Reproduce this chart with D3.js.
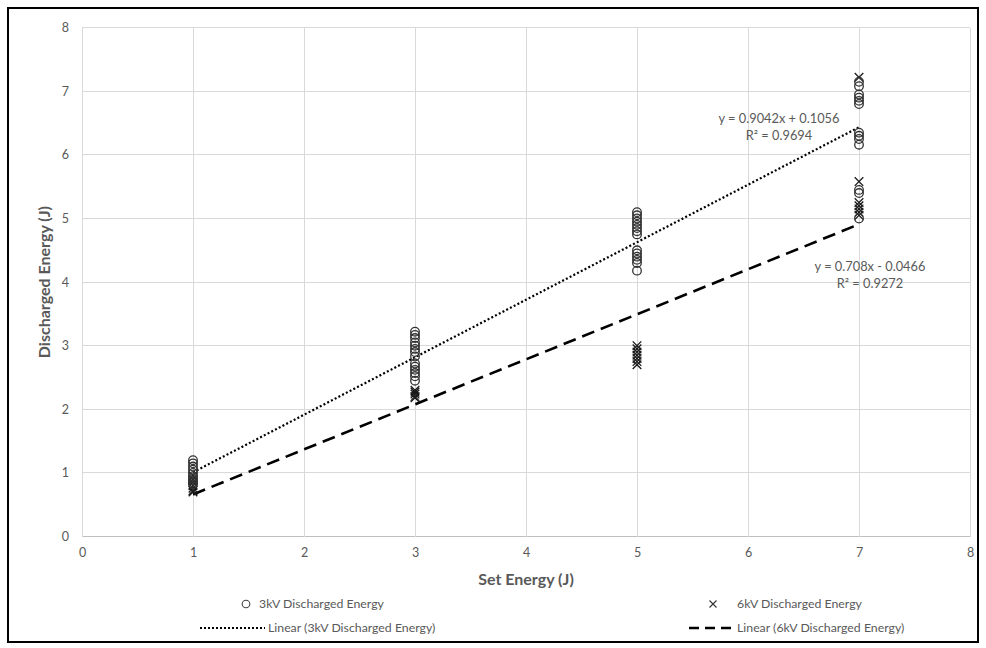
<!DOCTYPE html>
<html>
<head>
<meta charset="utf-8">
<script src="https://cdn.jsdelivr.net/npm/d3@7"></script>
<style>
  html, body { margin: 0; padding: 0; background: #fff; }
  svg { display: block; font-family: Lato, "Open Sans", sans-serif; }
</style>
</head>
<body>
<svg id="chart" width="986" height="648"></svg>
<script>
// ---------- data ----------
const setEnergy = [1, 3, 5, 7];
const xTicks = [0, 1, 2, 3, 4, 5, 6, 7, 8];
const yTicks = [0, 1, 2, 3, 4, 5, 6, 7, 8];

// 3kV discharged energy readings, one list per set energy
const kv3At1 = [1.20, 1.15, 1.10, 1.05, 1.00, 0.95, 0.91, 0.88, 0.85, 0.82];
const kv3At3 = [3.22, 3.17, 3.12, 3.05, 3.00, 2.95, 2.90, 2.83, 2.72, 2.67, 2.62, 2.57, 2.52, 2.45];
const kv3At5 = [5.10, 5.05, 5.00, 4.95, 4.90, 4.85, 4.80, 4.75, 4.50, 4.45, 4.40, 4.35, 4.30, 4.18];
const kv3At7 = [7.15, 7.08, 6.95, 6.90, 6.85, 6.80, 6.35, 6.30, 6.25, 6.16, 5.45, 5.40, 5.00];

// 6kV discharged energy readings
const kv6At1 = [0.95, 0.90, 0.85, 0.80, 0.76, 0.72, 0.70];
const kv6At3 = [2.30, 2.27, 2.24, 2.20, 2.18];
const kv6At5 = [3.00, 2.95, 2.90, 2.85, 2.80, 2.75, 2.70];
const kv6At7 = [7.22, 5.58, 5.25, 5.20, 5.15, 5.10, 5.05];

const kv3Values = [kv3At1, kv3At3, kv3At5, kv3At7];
const kv6Values = [kv6At1, kv6At3, kv6At5, kv6At7];

// Linear trendlines (Excel)
const fit3 = { slope: 0.9042, intercept: 0.1056, r2: "0.9694", eq: "y = 0.9042x + 0.1056" };
const fit6 = { slope: 0.708, intercept: -0.0466, r2: "0.9272", eq: "y = 0.708x - 0.0466" };

const seriesNames = ["3kV Discharged Energy", "6kV Discharged Energy",
                     "Linear (3kV Discharged Energy)", "Linear (6kV Discharged Energy)"];

// ---------- chart ----------
const svg = d3.select("#chart");
const grey = "#595959";

// outer border
svg.append("rect")
  .attr("x", 8).attr("y", 8).attr("width", 970).attr("height", 634)
  .attr("fill", "#fff").attr("stroke", "#000").attr("stroke-width", 2);

const x = d3.scaleLinear().domain([0, 8]).range([82, 970]);
const y = d3.scaleLinear().domain([0, 8]).range([536.5, 27.7]);

// gridlines
const g = svg.append("g");
g.selectAll(".hgrid").data(yTicks).enter().append("line")
  .attr("x1", x(0)).attr("x2", x(8))
  .attr("y1", d => y(d)).attr("y2", d => y(d))
  .attr("stroke", d => d === 0 ? "#bfbfbf" : "#d9d9d9").attr("stroke-width", 1)
  .attr("shape-rendering", "crispEdges");
g.selectAll(".vgrid").data(xTicks).enter().append("line")
  .attr("x1", d => x(d)).attr("x2", d => x(d))
  .attr("y1", y(0)).attr("y2", y(8))
  .attr("stroke", "#d9d9d9").attr("stroke-width", 1)
  .attr("shape-rendering", "crispEdges");

// axes with d3 (ticks hidden, labels only)
const xAxis = d3.axisBottom(x).tickValues(xTicks).tickSize(0).tickPadding(12).tickFormat(d3.format("d"));
const yAxis = d3.axisLeft(y).tickValues(yTicks).tickSize(0).tickPadding(13).tickFormat(d3.format("d"));
const gx = svg.append("g").attr("transform", `translate(0,${y(0)})`).call(xAxis);
const gy = svg.append("g").attr("transform", `translate(${x(0)},0)`).call(yAxis);
[gx, gy].forEach(a => {
  a.select(".domain").remove();
  a.selectAll("text").attr("fill", grey).attr("font-size", 12.5).attr("font-family", "Lato, sans-serif");
});

// axis titles
svg.append("text")
  .attr("x", (x(0) + x(8)) / 2).attr("y", 585)
  .attr("text-anchor", "middle").attr("font-size", 16).attr("font-weight", "bold")
  .attr("fill", grey).text("Set Energy (J)");
svg.append("text")
  .attr("transform", `translate(50,${(y(0) + y(8)) / 2}) rotate(-90)`)
  .attr("text-anchor", "middle").attr("font-size", 16).attr("font-weight", "bold")
  .attr("fill", grey).text("Discharged Energy (J)");

// trendlines
const line = d3.line().x(d => x(d[0])).y(d => y(d[1]));
const xMin = d3.min(setEnergy), xMax = d3.max(setEnergy);
const trend = f => [[xMin, f.slope * xMin + f.intercept], [xMax, f.slope * xMax + f.intercept]];
svg.append("path").attr("d", line(trend(fit3)))
  .attr("stroke", "#000").attr("stroke-width", 2.2).attr("fill", "none")
  .attr("stroke-dasharray", "2,2.2");
svg.append("path").attr("d", line(trend(fit6)))
  .attr("stroke", "#000").attr("stroke-width", 2.6).attr("fill", "none")
  .attr("stroke-dasharray", "13,7");

// points
const pts3 = [], pts6 = [];
setEnergy.forEach((e, i) => {
  kv3Values[i].forEach(v => pts3.push([e, v]));
  kv6Values[i].forEach(v => pts6.push([e, v]));
});
const r = 4.3;
svg.append("g").selectAll("path").data(pts6).enter().append("path")
  .attr("d", d => {
    const cx = x(d[0]), cy = y(d[1]);
    return `M${cx - r},${cy - r}L${cx + r},${cy + r}M${cx - r},${cy + r}L${cx + r},${cy - r}`;
  })
  .attr("stroke", "#1a1a1a").attr("stroke-width", 1.3).attr("fill", "none");
svg.append("g").selectAll("circle").data(pts3).enter().append("circle")
  .attr("cx", d => x(d[0])).attr("cy", d => y(d[1])).attr("r", r)
  .attr("stroke", "#333").attr("stroke-width", 1.3).attr("fill", "none");

// equation labels
function eqLabel(f, cx, yy) {
  const t = svg.append("text").attr("text-anchor", "middle").attr("font-size", 12.8).attr("fill", grey);
  t.append("tspan").attr("x", cx).attr("y", yy).text(f.eq);
  t.append("tspan").attr("x", cx).attr("y", yy + 17).text("R² = " + f.r2);
}
eqLabel(fit3, 779, 123);
eqLabel(fit6, 870, 271);

// legend
const leg = svg.append("g").attr("font-size", 12.3).attr("fill", grey);
const lg1 = 608, lg2 = 632;
leg.append("circle").attr("cx", 246).attr("cy", lg1 - 4).attr("r", 3.8)
  .attr("stroke", "#444").attr("stroke-width", 1.1).attr("fill", "none");
leg.append("text").attr("x", 259).attr("y", lg1).attr("fill", grey).text(seriesNames[0]);
const lr = 3.5;
leg.append("path")
  .attr("d", `M${713 - lr},${lg1 - 4 - lr}L${713 + lr},${lg1 - 4 + lr}M${713 - lr},${lg1 - 4 + lr}L${713 + lr},${lg1 - 4 - lr}`)
  .attr("stroke", "#333").attr("stroke-width", 1.1);
leg.append("text").attr("x", 737).attr("y", lg1).attr("fill", grey).text(seriesNames[1]);
leg.append("line").attr("x1", 200).attr("x2", 265).attr("y1", lg2 - 4).attr("y2", lg2 - 4)
  .attr("stroke", "#000").attr("stroke-width", 2).attr("stroke-dasharray", "2,2");
leg.append("text").attr("x", 268).attr("y", lg2).attr("fill", grey).text(seriesNames[2]);
leg.append("line").attr("x1", 689).attr("x2", 735).attr("y1", lg2 - 4).attr("y2", lg2 - 4)
  .attr("stroke", "#000").attr("stroke-width", 2.6).attr("stroke-dasharray", "10,6");
leg.append("text").attr("x", 737).attr("y", lg2).attr("fill", grey).text(seriesNames[3]);
</script>
</body>
</html>
